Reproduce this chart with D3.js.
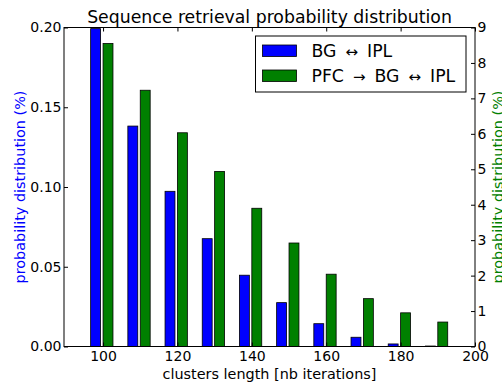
<!DOCTYPE html>
<html>
<head>
<meta charset="utf-8">
<script src="https://cdn.jsdelivr.net/npm/d3@7"></script>
<style>
  body { margin: 0; background: #fff; overflow: hidden; }
  text { font-family: "DejaVu Sans", sans-serif; }
</style>
</head>
<body>
<svg id="svgContainer"></svg>
<script>
// chart data
const clusterLengths = [100, 110, 120, 130, 140, 150, 160, 170, 180, 190];
const bgIpl = [0.1993, 0.1382, 0.0973, 0.0676, 0.0447, 0.0275, 0.0143, 0.0058, 0.0016, 0.0003];
const pfcBgIpl = [8.55, 7.23, 6.03, 4.94, 3.90, 2.92, 2.04, 1.35, 0.95, 0.69];
const xTicks = [100, 120, 140, 160, 180, 200];
const leftTicks = [0.00, 0.05, 0.10, 0.15, 0.20];
const rightTicks = [0, 1, 2, 3, 4, 5, 6, 7, 8, 9];

const svgWidth = 502;
const svgHeight = 385;
const svg = d3.select("#svgContainer")
  .attr("width", svgWidth)
  .attr("height", svgHeight);

// plot box
const plotLeft = 64, plotRight = 475, plotTop = 27.5, plotBottom = 346.5;
const barWidth = 10 / 3 * 0.8;
const tickLen = 4;

const x = d3.scaleLinear().domain([89.5, 200]).range([plotLeft, plotRight]);
const yLeft = d3.scaleLinear().domain([0, 0.2]).range([plotBottom, plotTop]);
const yRight = d3.scaleLinear().domain([0, 9]).range([plotBottom, plotTop]);

// blue bars (left axis)
svg.selectAll(".bar-bg")
  .data(clusterLengths)
  .enter()
  .append("rect")
  .attr("class", "bar-bg")
  .attr("x", (d) => x(d - 10 / 3))
  .attr("width", x(barWidth) - x(0))
  .attr("y", (d, i) => yLeft(bgIpl[i]))
  .attr("height", (d, i) => plotBottom - yLeft(bgIpl[i]))
  .attr("fill", "#0000ff")
  .attr("stroke", "#000")
  .attr("stroke-width", 0.8);

// green bars (right axis)
svg.selectAll(".bar-pfc")
  .data(clusterLengths)
  .enter()
  .append("rect")
  .attr("class", "bar-pfc")
  .attr("x", (d) => x(d))
  .attr("width", x(barWidth) - x(0))
  .attr("y", (d, i) => yRight(pfcBgIpl[i]))
  .attr("height", (d, i) => plotBottom - yRight(pfcBgIpl[i]))
  .attr("fill", "#008000")
  .attr("stroke", "#000")
  .attr("stroke-width", 0.8);

// frame
svg.append("rect")
  .attr("x", plotLeft)
  .attr("y", plotTop)
  .attr("width", plotRight - plotLeft)
  .attr("height", plotBottom - plotTop)
  .attr("fill", "none")
  .attr("stroke", "#000")
  .attr("stroke-width", 1);

// axes with inside ticks
const xBottom = d3.axisBottom(x).tickValues(xTicks).tickSize(-tickLen).tickPadding(5).tickFormat(d3.format("d"));
const xTop = d3.axisTop(x).tickValues(xTicks).tickSize(-tickLen).tickFormat("");
const axLeft = d3.axisLeft(yLeft).tickValues(leftTicks).tickSize(-tickLen).tickPadding(2.5).tickFormat(d3.format(".2f"));
const axRight = d3.axisRight(yRight).tickValues(rightTicks).tickSize(-tickLen).tickPadding(2.5).tickFormat(d3.format("d"));

const gB = svg.append("g").attr("transform", `translate(0, ${plotBottom})`).call(xBottom);
const gT = svg.append("g").attr("transform", `translate(0, ${plotTop})`).call(xTop);
const gL = svg.append("g").attr("transform", `translate(${plotLeft}, 0)`).call(axLeft);
const gR = svg.append("g").attr("transform", `translate(${plotRight}, 0)`).call(axRight);

[gB, gT, gL, gR].forEach((g) => {
  g.select(".domain").remove();
  g.selectAll(".tick line").attr("stroke", "#000");
  g.selectAll(".tick text")
    .attr("font-family", "DejaVu Sans")
    .attr("font-size", 14)
    .attr("fill", "#000");
});

// title
svg.append("text")
  .attr("x", (plotLeft + plotRight) / 2)
  .attr("y", 22.5)
  .attr("text-anchor", "middle")
  .attr("font-size", 17.3)
  .text("Sequence retrieval probability distribution");

// axis labels
svg.append("text")
  .attr("x", (plotLeft + plotRight) / 2)
  .attr("y", 379)
  .attr("text-anchor", "middle")
  .attr("font-size", 14.4)
  .text("clusters length [nb iterations]");

svg.append("text")
  .attr("transform", `translate(25, ${(plotTop + plotBottom) / 2}) rotate(-90)`)
  .attr("text-anchor", "middle")
  .attr("font-size", 14.4)
  .attr("fill", "#0000ff")
  .text("probability distribution (%)");

svg.append("text")
  .attr("transform", `translate(503, ${(plotTop + plotBottom) / 2}) rotate(-90)`)
  .attr("text-anchor", "middle")
  .attr("font-size", 14.4)
  .attr("fill", "#008000")
  .text("probability distribution (%)");

// legend
const legend = svg.append("g");
legend.append("rect")
  .attr("x", 255.5)
  .attr("y", 36)
  .attr("width", 210.5)
  .attr("height", 56)
  .attr("fill", "#fff")
  .attr("stroke", "#000")
  .attr("stroke-width", 1);

const legendItems = [
  { color: "#0000ff", parts: ["BG", "\u2194", "IPL"] },
  { color: "#008000", parts: ["PFC", "\u2192", "BG", "\u2194", "IPL"] }
];

legendItems.forEach((item, i) => {
  const yy = 45 + i * 25;
  legend.append("rect")
    .attr("x", 262.5)
    .attr("y", yy)
    .attr("width", 34)
    .attr("height", 11.5)
    .attr("fill", item.color)
    .attr("stroke", "#000")
    .attr("stroke-width", 0.8);
  const t = legend.append("text")
    .attr("x", 311.5)
    .attr("y", yy + 11.5)
    .attr("font-size", 17.3);
  item.parts.forEach((p, j) => {
    const isArrow = p === "\u2192" || p === "\u2194";
    t.append("tspan")
      .attr("dx", j === 0 ? 0 : 9)
      .attr("font-size", isArrow ? 15 : 17.3)
      .text(p);
  });
});
</script>
</body>
</html>
